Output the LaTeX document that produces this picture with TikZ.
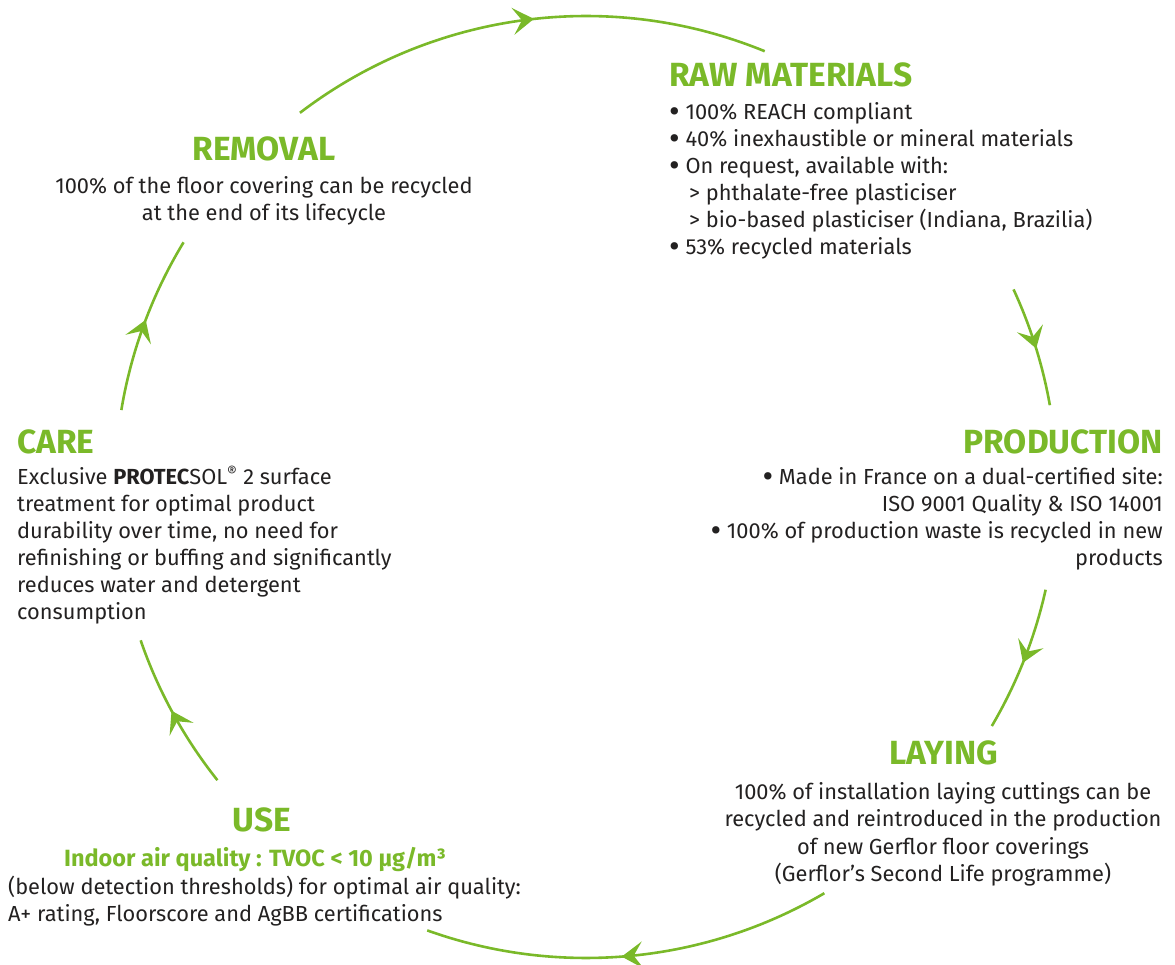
\documentclass[tikz,border=0pt]{standalone}
\usepackage{fontspec}
\setmainfont{Fira Sans}
\usetikzlibrary{arrows.meta,decorations.markings,calc}
\definecolor{leaf}{RGB}{122,185,41}
\definecolor{ink}{RGB}{35,33,33}
\newcommand\blt{\smash{\raisebox{-0.12em}{\scalebox{1.5}{\textbullet}}}}
\tikzset{
  cyc/.style={draw=leaf, line width=2.6pt,
    decoration={markings, mark=at position 0.52 with {\arrow[leaf]{Stealth[length=21pt,width=27pt,inset=9pt]}}},
    postaction={decorate}},
  head/.style={text=leaf, font=\fontsize{33.5}{33}\selectfont\bfseries, inner sep=0pt},
  body/.style={text=ink, font=\fontsize{21.8}{27}\selectfont, inner sep=0pt},
  sub/.style={text=leaf, font=\fontsize{23.5}{27}\selectfont\bfseries, inner sep=0pt},
}
\begin{document}
\begin{tikzpicture}[x=1pt,y=1pt]
\useasboundingbox (0,0) rectangle (1175,964);
\coordinate (C) at (586,477);
% cycle arcs
\draw[cyc] ($(C)+(127.4:471pt)$) arc[start angle=127.4, end angle=67.7, radius=471pt];
\draw[cyc] ($(C)+(24.8:471pt)$) arc[start angle=24.8, end angle=10, radius=471pt];
\draw[cyc] ($(C)+(-12.6:471pt)$) arc[start angle=-12.6, end angle=-30.5, radius=471pt];
\draw[cyc] ($(C)+(-59.6:471pt)$) arc[start angle=-59.6, end angle=-109.7, radius=471pt];
\draw[cyc] ($(C)+(218.5:471pt)$) arc[start angle=218.5, end angle=199, radius=471pt];
\draw[cyc] ($(C)+(170.6:471pt)$) arc[start angle=170.6, end angle=148.7, radius=471pt];
% RAW MATERIALS
\node[head, anchor=base west] (rawh) at (669,877) {RAW MATERIALS};
\node[body, anchor=base west] (raw1) at (669,844) {\blt\ 100\% REACH compliant};
\node[body, anchor=base west] (raw2) at (669,817) {\blt\ 40\% inexhaustible or mineral materials};
\node[body, anchor=base west] (raw3) at (669,790) {\blt\ On request, available with:};
\node[body, anchor=base west] (raw4) at (689,763) {> phthalate-free plasticiser};
\node[body, anchor=base west] (raw5) at (689,736) {> bio-based plasticiser (Indiana, Brazilia)};
\node[body, anchor=base west] (raw6) at (669,709) {\blt\ 53\% recycled materials};
% REMOVAL
\node[head, anchor=base] (remh) at (264,803) {REMOVAL};
\node[body, anchor=base] (rem1) at (264,770) {100\% of the floor covering can be recycled};
\node[body, anchor=base] (rem2) at (264,743) {at the end of its lifecycle};
% CARE
\node[head, anchor=base west] (careh) at (17,510) {CARE};
\node[body, anchor=base west] (care1) at (17,479) {Exclusive \textbf{PROTEC}SOL\textsuperscript{\textregistered} 2 surface};
\node[body, anchor=base west] (care2) at (17,452) {treatment for optimal product};
\node[body, anchor=base west] (care3) at (17,425) {durability over time, no need for};
\node[body, anchor=base west] (care4) at (17,398) {refinishing or buffing and significantly};
\node[body, anchor=base west] (care5) at (17,371) {reduces water and detergent};
\node[body, anchor=base west] (care6) at (17,344) {consumption};
% PRODUCTION
\node[head, anchor=base east] (prodh) at (1163,510) {PRODUCTION};
\node[body, anchor=base east] (prod1) at (1163,479) {\blt\ Made in France on a dual-certified site:};
\node[body, anchor=base east] (prod2) at (1163,452) {ISO 9001 Quality \& ISO 14001};
\node[body, anchor=base east] (prod3) at (1163,425) {\blt\ 100\% of production waste is recycled in new};
\node[body, anchor=base east] (prod4) at (1163,398) {products};
% LAYING
\node[head, anchor=base] (layh) at (944,199) {LAYING};
\node[body, anchor=base] (lay1) at (943,164) {100\% of installation laying cuttings can be};
\node[body, anchor=base] (lay2) at (943,137) {recycled and reintroduced in the production};
\node[body, anchor=base] (lay3) at (943,110) {of new Gerflor floor coverings};
\node[body, anchor=base] (lay4) at (943,83) {(Gerflor’s Second Life programme)};
% USE
\node[head, anchor=base] (useh) at (262,132) {USE};
\node[sub, anchor=base] (use1) at (255,98) {Indoor air quality : TVOC < 10 µg/m³};
\node[body, anchor=base west] (use2) at (8,70) {(below detection thresholds) for optimal air quality:};
\node[body, anchor=base west] (use3) at (8,43) {A+ rating, Floorscore and AgBB certifications};
\end{tikzpicture}
\end{document}
